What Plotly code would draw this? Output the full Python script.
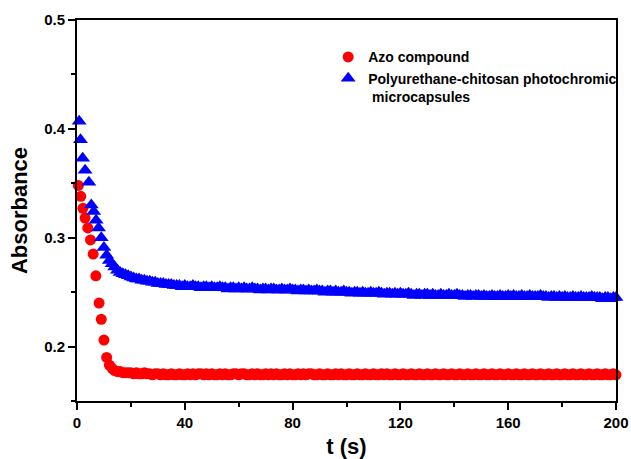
import plotly.graph_objects as go

# Absorbance decay under irradiation (t in seconds)
azo_t_early = [0.5, 1.4, 2.2, 3.0, 4.0, 5.0, 6.0, 7.0, 8.2, 9.0, 10.0, 11.0, 12.0]
azo_a_early = [0.348, 0.338, 0.327, 0.318, 0.309, 0.298, 0.285, 0.265, 0.240,
               0.225, 0.206, 0.190, 0.183]

pu_t_early = [0.8, 1.3, 2.1, 3.0, 4.4, 5.3, 6.2, 7.1, 8.0, 9.0, 10.0, 11.0, 12.0]
pu_a_early = [0.407, 0.390, 0.373, 0.362, 0.351, 0.330, 0.324, 0.316, 0.309,
              0.300, 0.291, 0.284, 0.279]

# 1 s sampling from 13 s to 200 s
t_tail = list(range(13, 201))

azo_a_tail = [
    0.180, 0.178, 0.177, 0.177, 0.176, 0.176, 0.176,
    0.176, 0.175, 0.176, 0.175, 0.175, 0.176, 0.175, 0.175, 0.174, 0.175,
    0.175, 0.174, 0.175, 0.174, 0.174, 0.175, 0.174, 0.174, 0.175, 0.174,
    0.174, 0.175, 0.174, 0.175, 0.174, 0.175, 0.175, 0.174, 0.175, 0.174,
    0.175, 0.174, 0.174, 0.175, 0.174, 0.175, 0.174, 0.174, 0.175, 0.175,
    0.174, 0.175, 0.175, 0.174, 0.174, 0.175, 0.174, 0.175, 0.174, 0.174,
    0.175, 0.174, 0.175, 0.174, 0.175, 0.174, 0.174, 0.175, 0.174, 0.175,
    0.174, 0.174, 0.175, 0.174, 0.175, 0.174, 0.175, 0.175, 0.174, 0.174,
    0.175, 0.174, 0.174, 0.175, 0.174, 0.174, 0.175, 0.174, 0.175, 0.174,
    0.174, 0.175, 0.174, 0.174, 0.175, 0.174, 0.174, 0.175, 0.174, 0.174,
    0.175, 0.174, 0.174, 0.175, 0.174, 0.175, 0.174, 0.174, 0.175, 0.174,
    0.174, 0.175, 0.174, 0.174, 0.175, 0.174, 0.174, 0.175, 0.174, 0.174,
    0.175, 0.174, 0.174, 0.175, 0.174, 0.174, 0.175, 0.174, 0.174, 0.175,
    0.174, 0.174, 0.175, 0.174, 0.174, 0.175, 0.174, 0.174, 0.175, 0.174,
    0.174, 0.175, 0.174, 0.174, 0.175, 0.174, 0.174, 0.175, 0.174, 0.174,
    0.175, 0.174, 0.174, 0.175, 0.174, 0.174, 0.175, 0.174, 0.174, 0.175,
    0.174, 0.174, 0.175, 0.174, 0.174, 0.175, 0.174, 0.174, 0.175, 0.174,
    0.174, 0.175, 0.174, 0.174, 0.175, 0.174, 0.174, 0.175, 0.174, 0.174,
    0.175, 0.174, 0.174, 0.175, 0.174, 0.174, 0.175, 0.174, 0.174, 0.175, 0.174,
]

pu_a_tail = [
    0.276, 0.273, 0.270, 0.268, 0.267, 0.266, 0.265,
    0.264, 0.263, 0.262, 0.262, 0.261, 0.261, 0.260, 0.260, 0.259, 0.259,
    0.258, 0.258, 0.258, 0.257, 0.257, 0.257, 0.256, 0.256, 0.256, 0.255,
    0.256, 0.255, 0.255, 0.256, 0.255, 0.255, 0.254, 0.255, 0.255, 0.254,
    0.255, 0.254, 0.254, 0.255, 0.254, 0.254, 0.253, 0.254, 0.254, 0.253,
    0.254, 0.253, 0.254, 0.253, 0.253, 0.254, 0.253, 0.253, 0.252, 0.253,
    0.253, 0.252, 0.253, 0.253, 0.252, 0.252, 0.253, 0.252, 0.252, 0.253,
    0.252, 0.252, 0.251, 0.252, 0.252, 0.251, 0.252, 0.251, 0.251, 0.252,
    0.251, 0.251, 0.250, 0.251, 0.251, 0.250, 0.251, 0.250, 0.250, 0.251,
    0.250, 0.250, 0.249, 0.250, 0.250, 0.249, 0.250, 0.249, 0.249, 0.250,
    0.249, 0.249, 0.250, 0.249, 0.248, 0.249, 0.249, 0.248, 0.249, 0.248,
    0.249, 0.248, 0.248, 0.249, 0.248, 0.247, 0.248, 0.248, 0.247, 0.248,
    0.248, 0.247, 0.248, 0.247, 0.247, 0.248, 0.247, 0.247, 0.248, 0.247,
    0.247, 0.248, 0.247, 0.247, 0.246, 0.247, 0.247, 0.246, 0.247, 0.247,
    0.246, 0.247, 0.246, 0.246, 0.247, 0.246, 0.246, 0.247, 0.246, 0.246,
    0.247, 0.246, 0.247, 0.246, 0.246, 0.247, 0.246, 0.246, 0.247, 0.246,
    0.246, 0.246, 0.247, 0.246, 0.246, 0.245, 0.246, 0.246, 0.245, 0.246,
    0.245, 0.246, 0.245, 0.245, 0.246, 0.245, 0.245, 0.246, 0.245, 0.245,
    0.245, 0.246, 0.245, 0.245, 0.245, 0.244, 0.245, 0.245, 0.244, 0.245, 0.245,
]

assert len(azo_a_tail) == len(t_tail) and len(pu_a_tail) == len(t_tail)

azo_t = azo_t_early + t_tail
azo_a = azo_a_early + azo_a_tail
pu_t = pu_t_early + t_tail
pu_a = pu_a_early + pu_a_tail

x_ticks = [0, 40, 80, 120, 160, 200]
y_ticks = [0.2, 0.3, 0.4, 0.5]

FONT = "Liberation Sans, Arial, sans-serif"

fig = go.Figure()
fig.add_trace(go.Scatter(
    x=azo_t, y=azo_a, mode="markers", name="Azo compound",
    marker=dict(symbol="circle", size=11, color="#ff0000"),
    cliponaxis=False,
))
fig.add_trace(go.Scatter(
    x=pu_t, y=pu_a, mode="markers",
    name="Polyurethane-chitosan photochromic<br>\u00a0microcapsules",
    marker=dict(symbol="triangle-up", size=13, color="#0000ff"),
    cliponaxis=False,
))

axis_common = dict(
    showline=True, linecolor="black", linewidth=2, mirror=True,
    ticks="outside", ticklen=7, tickwidth=2, tickcolor="black",
    showgrid=False, zeroline=False, automargin=False,
    tickfont=dict(family=FONT, size=15, color="black", weight="bold"),
)

fig.update_xaxes(
    range=[0, 200], tickvals=x_ticks,
    minor=dict(ticks="outside", dtick=20, tick0=0, ticklen=4, tickwidth=2,
               tickcolor="black", showgrid=False),
    title=dict(text="t (s)", standoff=15,
               font=dict(family=FONT, size=22, color="black", weight="bold")),
    **axis_common,
)
fig.update_yaxes(
    range=[0.15, 0.5], tickvals=y_ticks, tickformat=".1f",
    minor=dict(ticks="outside", dtick=0.05, tick0=0.15, ticklen=4, tickwidth=2,
               tickcolor="black", showgrid=False),
    title=dict(text="Absorbance", standoff=10,
               font=dict(family=FONT, size=22, color="black", weight="bold")),
    **axis_common,
)

fig.update_layout(
    width=631, height=459,
    margin=dict(l=77, r=15, t=20, b=58, autoexpand=False),
    paper_bgcolor="white", plot_bgcolor="white",
    showlegend=True,
    legend=dict(
        x=0.466, y=0.944, xanchor="left", yanchor="top",
        bgcolor="rgba(0,0,0,0)", borderwidth=0,
        font=dict(family=FONT, size=14, color="black", weight="bold"),
        valign="top", tracegroupgap=0,
    ),
)

fig.write_html("out.html")
